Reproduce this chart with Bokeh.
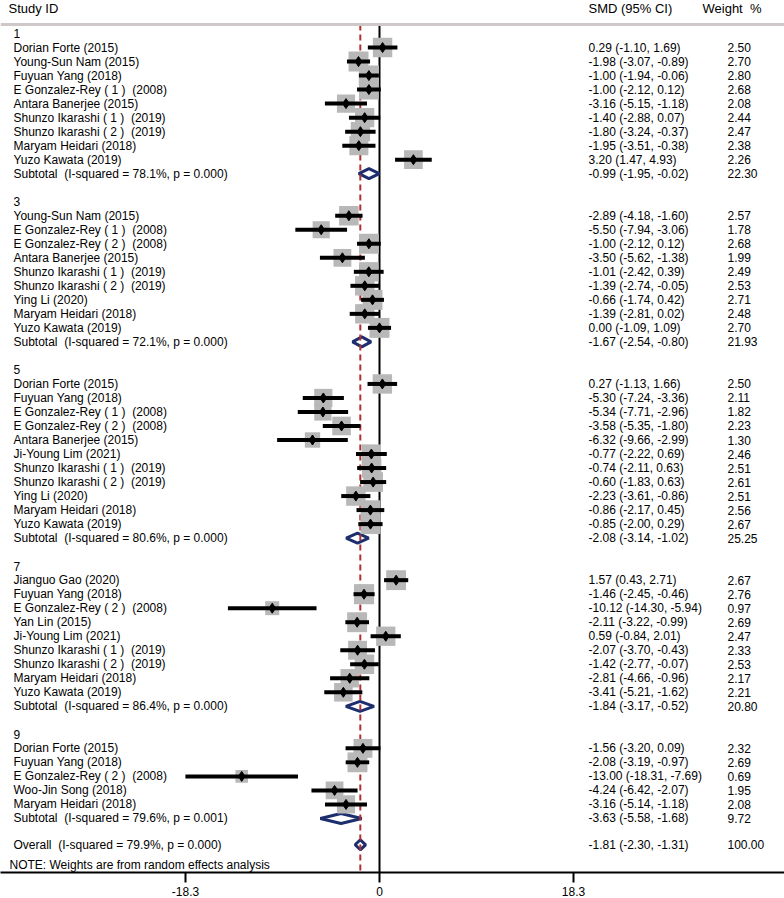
import math
from bokeh.plotting import figure
from bokeh.models import ColumnDataSource, Range1d, FixedTicker, CustomJSTickFormatter, Span
from bokeh.core.properties import value
from bokeh.embed import file_html
from bokeh.resources import INLINE

# ---------------- data ----------------
group_labels = ["1", "3", "5", "7", "9"]

g1_studies = ["Dorian Forte (2015)", "Young-Sun Nam (2015)", "Fuyuan Yang (2018)",
              "E Gonzalez-Rey ( 1 )\u00a0 (2008)", "Antara Banerjee (2015)",
              "Shunzo Ikarashi ( 1 )\u00a0 (2019)", "Shunzo Ikarashi ( 2 )\u00a0 (2019)",
              "Maryam Heidari (2018)", "Yuzo Kawata (2019)"]
g1_smd = [0.29, -1.98, -1.00, -1.00, -3.16, -1.40, -1.80, -1.95, 3.20]
g1_lo = [-1.10, -3.07, -1.94, -2.12, -5.15, -2.88, -3.24, -3.51, 1.47]
g1_hi = [1.69, -0.89, -0.06, 0.12, -1.18, 0.07, -0.37, -0.38, 4.93]
g1_w = [2.50, 2.70, 2.80, 2.68, 2.08, 2.44, 2.47, 2.38, 2.26]

g3_studies = ["Young-Sun Nam (2015)", "E Gonzalez-Rey ( 1 )\u00a0 (2008)",
              "E Gonzalez-Rey ( 2 )\u00a0 (2008)", "Antara Banerjee (2015)",
              "Shunzo Ikarashi ( 1 )\u00a0 (2019)", "Shunzo Ikarashi ( 2 )\u00a0 (2019)",
              "Ying Li (2020)", "Maryam Heidari (2018)", "Yuzo Kawata (2019)"]
g3_smd = [-2.89, -5.50, -1.00, -3.50, -1.01, -1.39, -0.66, -1.39, 0.00]
g3_lo = [-4.18, -7.94, -2.12, -5.62, -2.42, -2.74, -1.74, -2.81, -1.09]
g3_hi = [-1.60, -3.06, 0.12, -1.38, 0.39, -0.05, 0.42, 0.02, 1.09]
g3_w = [2.57, 1.78, 2.68, 1.99, 2.49, 2.53, 2.71, 2.48, 2.70]

g5_studies = ["Dorian Forte (2015)", "Fuyuan Yang (2018)", "E Gonzalez-Rey ( 1 )\u00a0 (2008)",
              "E Gonzalez-Rey ( 2 )\u00a0 (2008)", "Antara Banerjee (2015)", "Ji-Young Lim (2021)",
              "Shunzo Ikarashi ( 1 )\u00a0 (2019)", "Shunzo Ikarashi ( 2 )\u00a0 (2019)",
              "Ying Li (2020)", "Maryam Heidari (2018)", "Yuzo Kawata (2019)"]
g5_smd = [0.27, -5.30, -5.34, -3.58, -6.32, -0.77, -0.74, -0.60, -2.23, -0.86, -0.85]
g5_lo = [-1.13, -7.24, -7.71, -5.35, -9.66, -2.22, -2.11, -1.83, -3.61, -2.17, -2.00]
g5_hi = [1.66, -3.36, -2.96, -1.80, -2.99, 0.69, 0.63, 0.63, -0.86, 0.45, 0.29]
g5_w = [2.50, 2.11, 1.82, 2.23, 1.30, 2.46, 2.51, 2.61, 2.51, 2.56, 2.67]

g7_studies = ["Jianguo Gao (2020)", "Fuyuan Yang (2018)", "E Gonzalez-Rey ( 2 )\u00a0 (2008)",
              "Yan Lin (2015)", "Ji-Young Lim (2021)", "Shunzo Ikarashi ( 1 )\u00a0 (2019)",
              "Shunzo Ikarashi ( 2 )\u00a0 (2019)", "Maryam Heidari (2018)", "Yuzo Kawata (2019)"]
g7_smd = [1.57, -1.46, -10.12, -2.11, 0.59, -2.07, -1.42, -2.81, -3.41]
g7_lo = [0.43, -2.45, -14.30, -3.22, -0.84, -3.70, -2.77, -4.66, -5.21]
g7_hi = [2.71, -0.46, -5.94, -0.99, 2.01, -0.43, -0.07, -0.96, -1.62]
g7_w = [2.67, 2.76, 0.97, 2.69, 2.47, 2.33, 2.53, 2.17, 2.21]

g9_studies = ["Dorian Forte (2015)", "Fuyuan Yang (2018)", "E Gonzalez-Rey ( 2 )\u00a0 (2008)",
              "Woo-Jin Song (2018)", "Maryam Heidari (2018)"]
g9_smd = [-1.56, -2.08, -13.00, -4.24, -3.16]
g9_lo = [-3.20, -3.19, -18.31, -6.42, -5.14]
g9_hi = [0.09, -0.97, -7.69, -2.07, -1.18]
g9_w = [2.32, 2.69, 0.69, 1.95, 2.08]

sub_i2 = [78.1, 72.1, 80.6, 86.4, 79.6]
sub_p = ["0.000", "0.000", "0.000", "0.000", "0.001"]
sub_smd = [-0.99, -1.67, -2.08, -1.84, -3.63]
sub_lo = [-1.95, -2.54, -3.14, -3.17, -5.58]
sub_hi = [-0.02, -0.80, -1.02, -0.52, -1.68]
sub_w = [22.30, 21.93, 25.25, 20.80, 9.72]

overall_i2 = 79.9
overall_p = "0.000"
overall_smd = -1.81
overall_lo = -2.30
overall_hi = -1.31
overall_w = 100.00

tick_values = [-18.3, 0, 18.3]

col_headers = ["Study ID", "SMD (95% CI)", "Weight\u00a0 %"]
note_text = "NOTE: Weights are from random effects analysis"

# ---------------- layout constants (pixels) ----------------
W, H = 784, 898
ZERO_PX = 379.0
PX_PER_UNIT = 10.6
ROW0_PX = 33.0
ROW_PITCH = 14.0
TOP_PX, AXIS_PX = 0.0, 871.0


def dx(px):
    return (px - ZERO_PX) / PX_PER_UNIT


def dy(py):
    return (py - ROW0_PX) / ROW_PITCH


FONT = value("Liberation Sans")
NAVY = "#1d2e6e"

groups = [
    (g1_studies, g1_smd, g1_lo, g1_hi, g1_w),
    (g3_studies, g3_smd, g3_lo, g3_hi, g3_w),
    (g5_studies, g5_smd, g5_lo, g5_hi, g5_w),
    (g7_studies, g7_smd, g7_lo, g7_hi, g7_w),
    (g9_studies, g9_smd, g9_lo, g9_hi, g9_w),
]


def ci_text(e, l, h):
    return f"{e:.2f} ({l:.2f}, {h:.2f})"


st = dict(y=[], label=[], smd=[], lo=[], hi=[], w=[], ci=[], wt=[], size=[])
lab = dict(y=[], label=[])
sub = dict(y=[], label=[], ci=[], wt=[])
dia_xs, dia_ys = [], []
HALF_H = 5.0 / ROW_PITCH

row = 0
for gi, (names, es, lo, hi, w) in enumerate(groups):
    lab["y"].append(row)
    lab["label"].append(group_labels[gi])
    row += 1
    for k in range(len(names)):
        st["y"].append(row)
        st["label"].append(names[k])
        st["smd"].append(es[k])
        st["lo"].append(lo[k])
        st["hi"].append(hi[k])
        st["w"].append(w[k])
        st["ci"].append(ci_text(es[k], lo[k], hi[k]))
        st["wt"].append(f"{w[k]:.2f}")
        st["size"].append(5.0 + 9.1 * math.sqrt(w[k]))
        row += 1
    sub["y"].append(row)
    sub["label"].append(f"Subtotal\u00a0 (I-squared = {sub_i2[gi]:.1f}%, p = {sub_p[gi]})")
    sub["ci"].append(ci_text(sub_smd[gi], sub_lo[gi], sub_hi[gi]))
    sub["wt"].append(f"{sub_w[gi]:.2f}")
    dia_xs.append([sub_lo[gi], sub_smd[gi], sub_hi[gi], sub_smd[gi]])
    dia_ys.append([row, row - HALF_H, row, row + HALF_H])
    row += 2

overall_row = row - 0.12
sub["y"].append(overall_row)
sub["label"].append(f"Overall\u00a0 (I-squared = {overall_i2:.1f}%, p = {overall_p})")
sub["ci"].append(ci_text(overall_smd, overall_lo, overall_hi))
sub["wt"].append(f"{overall_w:.2f}")
dia_xs.append([overall_lo, overall_smd, overall_hi, overall_smd])
dia_ys.append([overall_row, overall_row - HALF_H, overall_row, overall_row + HALF_H])

# ---------------- figure ----------------
p = figure(width=W, height=H, output_backend="svg", toolbar_location=None,
           x_range=Range1d(dx(0), dx(W)),
           y_range=Range1d(dy(AXIS_PX), dy(TOP_PX)),
           y_axis_location=None, min_border_left=0, min_border_right=0,
           min_border_top=0, min_border_bottom=0)
p.xgrid.visible = False
p.ygrid.visible = False
p.outline_line_color = None
p.background_fill_color = "white"
p.border_fill_color = "white"

ax = p.xaxis[0]
ax.ticker = FixedTicker(ticks=tick_values)
ax.formatter = CustomJSTickFormatter(code="return tick.toString();")
ax.axis_line_width = 2
ax.axis_line_color = "black"
ax.major_tick_line_width = 2
ax.major_tick_line_color = "black"
ax.major_tick_in = 0
ax.major_tick_out = 10
ax.minor_tick_line_color = None
ax.major_label_standoff = 4
ax.major_label_text_font = "Liberation Sans"
ax.major_label_text_font_size = "12px"
ax.major_label_text_color = "black"

header_line_y = dy(24)
p.add_layout(Span(location=header_line_y, dimension="width", line_color="#cfc8c8", line_width=3))

bottom = dy(AXIS_PX)
# zero line
p.segment(x0=[0], y0=[header_line_y], x1=[0], y1=[bottom], line_color="black", line_width=2)
# diamonds (white fill) under the dashed line
p.patches(xs=dia_xs, ys=dia_ys, fill_color="white", line_color=NAVY, line_width=3)
# overall effect dashed line
p.segment(x0=[overall_smd], y0=[header_line_y], x1=[overall_smd], y1=[bottom],
          line_color="#b03030", line_width=2, line_dash="6 4")

src = ColumnDataSource(st)
p.scatter(x="smd", y="y", size="size", marker="square", source=src,
          fill_color="#b8b8b8", line_color=None)
p.segment(x0="lo", y0="y", x1="hi", y1="y", source=src, line_color="black", line_width=4)
p.scatter(x="smd", y="y", size=10, marker="diamond", source=src,
          fill_color="black", line_color="black")

TXT = dict(text_font=FONT, text_font_size="12px", text_baseline="middle", text_color="black")
x_lab = dx(13)
x_ci = dx(588)
x_wt = dx(727)

p.text(x=x_lab, y="y", text="label", source=ColumnDataSource(lab), text_align="left", **TXT)
p.text(x=x_lab, y="y", text="label", source=src, text_align="left", **TXT)
p.text(x=x_ci, y="y", text="ci", source=src, text_align="left", **TXT)
p.text(x=x_wt, y="y", text="wt", source=src, text_align="left", **TXT)
ssrc = ColumnDataSource(sub)
p.text(x=x_lab, y="y", text="label", source=ssrc, text_align="left", **TXT)
p.text(x=x_ci, y="y", text="ci", source=ssrc, text_align="left", **TXT)
p.text(x=x_wt, y="y", text="wt", source=ssrc, text_align="left", **TXT)

# column headers
hdr_y = dy(8)
p.text(x=[dx(8), dx(588), dx(702)], y=[hdr_y] * 3, text=col_headers,
       text_font=FONT, text_font_size="13px", text_baseline="middle", text_align="left",
       text_color="black")
# note
p.text(x=[dx(9)], y=[dy(864)], text=[note_text], text_font=FONT, text_font_size="12px",
       text_baseline="middle", text_align="left", text_color="black")

open("out.html", "w").write(file_html(p, INLINE))
